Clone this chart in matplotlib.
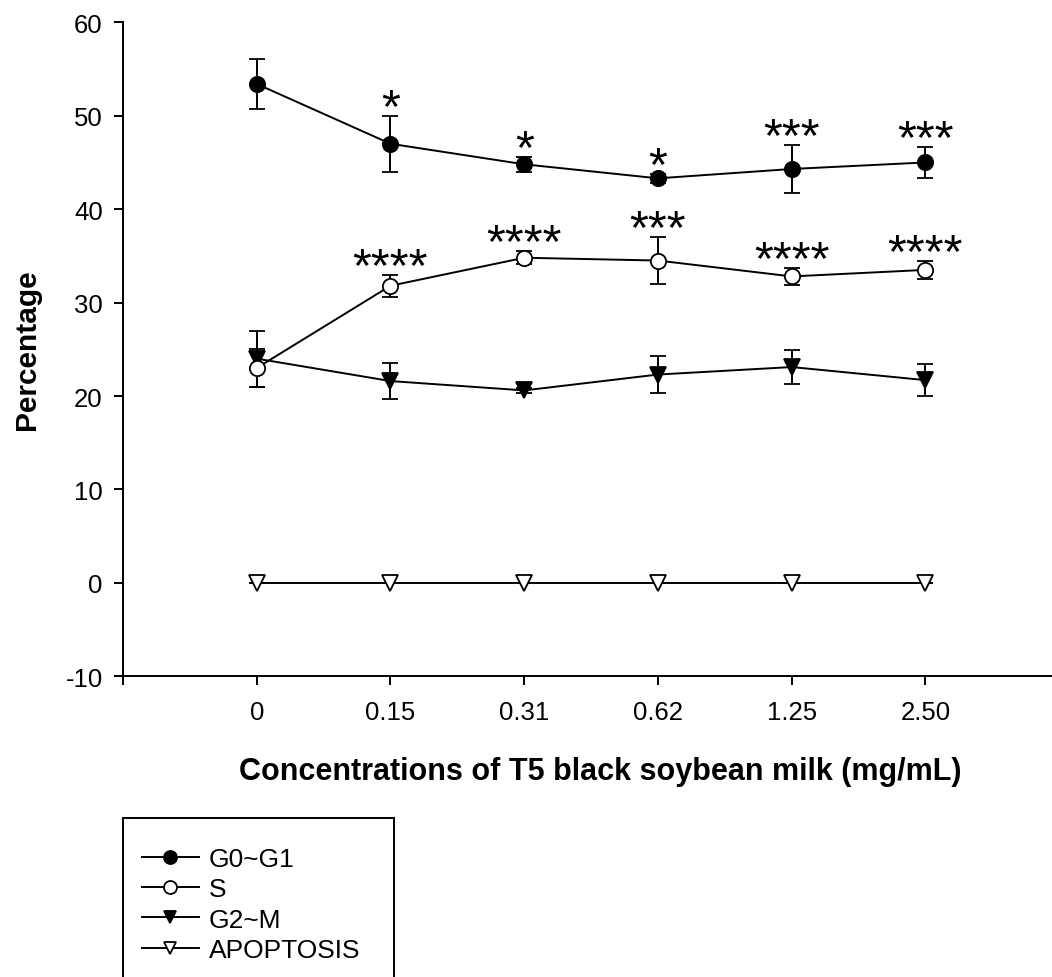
import numpy as np
import matplotlib.pyplot as plt
from matplotlib.patches import Rectangle

plt.rcParams['font.family'] = ['Liberation Sans', 'DejaVu Sans']
plt.rcParams['axes.unicode_minus'] = False

# 浓度 (mg/mL)
conc_labels = ['0', '0.15', '0.31', '0.62', '1.25', '2.50']

# 各周期百分比 (均值, 误差)
g0g1_mean = [53.4, 47.0, 44.8, 43.3, 44.3, 45.0]
g0g1_err = [2.7, 3.0, 0.8, 0.5, 2.6, 1.7]
s_mean = [23.0, 31.8, 34.8, 34.5, 32.8, 33.5]
s_err = [2.0, 1.2, 0.7, 2.5, 0.9, 1.0]
g2m_mean = [24.0, 21.6, 20.6, 22.3, 23.1, 21.7]
g2m_err = [3.0, 1.9, 0.3, 2.0, 1.8, 1.7]
apop_mean = [0, 0, 0, 0, 0, 0]
apop_err = [0, 0, 0, 0, 0, 0]

# 显著性标记
g0g1_stars = ['', '*', '*', '*', '***', '***']
s_stars = ['', '****', '****', '***', '****', '****']

W, H = 1052, 978
fig = plt.figure(figsize=(W / 100, H / 100), dpi=100)
ax = fig.add_axes([123 / W, (H - 677.3) / H, (W - 123) / W, (677.3 - 23.3) / H])

x = np.arange(len(conc_labels))
Series = [
    [g0g1_mean, g0g1_err, 'o', 'black', 'G0~G1', 3],
    [s_mean, s_err, 'o', 'white', 'S', 5],
    [g2m_mean, g2m_err, 'v', 'black', 'G2~M', 4],
    [apop_mean, apop_err, 'v', 'white', 'APOPTOSIS', 4],
]
handles = []
labels = []
for mean, err, mk, fc, lab, z in Series:
    eb = ax.errorbar(x, mean, yerr=err, fmt='-' + mk, color='black', mfc=fc, mec='black',
                     ms=11, mew=1.3, lw=1.4, elinewidth=1.4, capsize=5.5, capthick=1.4,
                     zorder=z)
    handles.append(eb[0])
    labels.append(lab)

for mean, err, stars in [[g0g1_mean, g0g1_err, g0g1_stars], [s_mean, s_err, s_stars]]:
    for i in range(len(x)):
        if stars[i]:
            ax.text(x[i], mean[i] + err[i] - 0.55, stars[i], ha='center', va='baseline',
                    fontsize=35)

ax.set_xlim(-1, (W - 257) / 133.7)
ax.set_ylim(-10, 60)
ax.set_yticks(range(-10, 61, 10))
ax.set_xticks([-1] + list(x))
ax.set_xticklabels([''] + conc_labels)
ax.spines['top'].set_visible(False)
ax.spines['right'].set_visible(False)
for sp in ['left', 'bottom']:
    ax.spines[sp].set_linewidth(1.4)
ax.tick_params(direction='out', length=6.5, width=1.4, labelsize=18.5)
ax.tick_params(axis='y', pad=8)
ax.tick_params(axis='x', pad=10.5)

fig.text(600 / W, (H - 780) / H, 'Concentrations of T5 black soybean milk (mg/mL)',
         ha='center', va='baseline', fontsize=22, fontweight='bold')
fig.text(27 / W, (H - 350) / H, 'Percentage', rotation=90, ha='center', va='center',
         fontsize=21.5, fontweight='bold')

# 图例
leg = fig.legend(handles, labels, loc='upper left', bbox_to_anchor=(142 / W, (H - 848) / H),
                 frameon=False, fontsize=19, handlelength=2.15, handletextpad=0.38,
                 labelspacing=0.24, borderpad=0, borderaxespad=0, markerscale=0.85)
fig.patches.append(Rectangle((123 / W, -0.05), (394 - 123) / W, (H - 819) / H + 0.05,
                             transform=fig.transFigure, fill=False, lw=1.4, ec='black',
                             clip_on=False))

plt.savefig('out.png', dpi=100)
